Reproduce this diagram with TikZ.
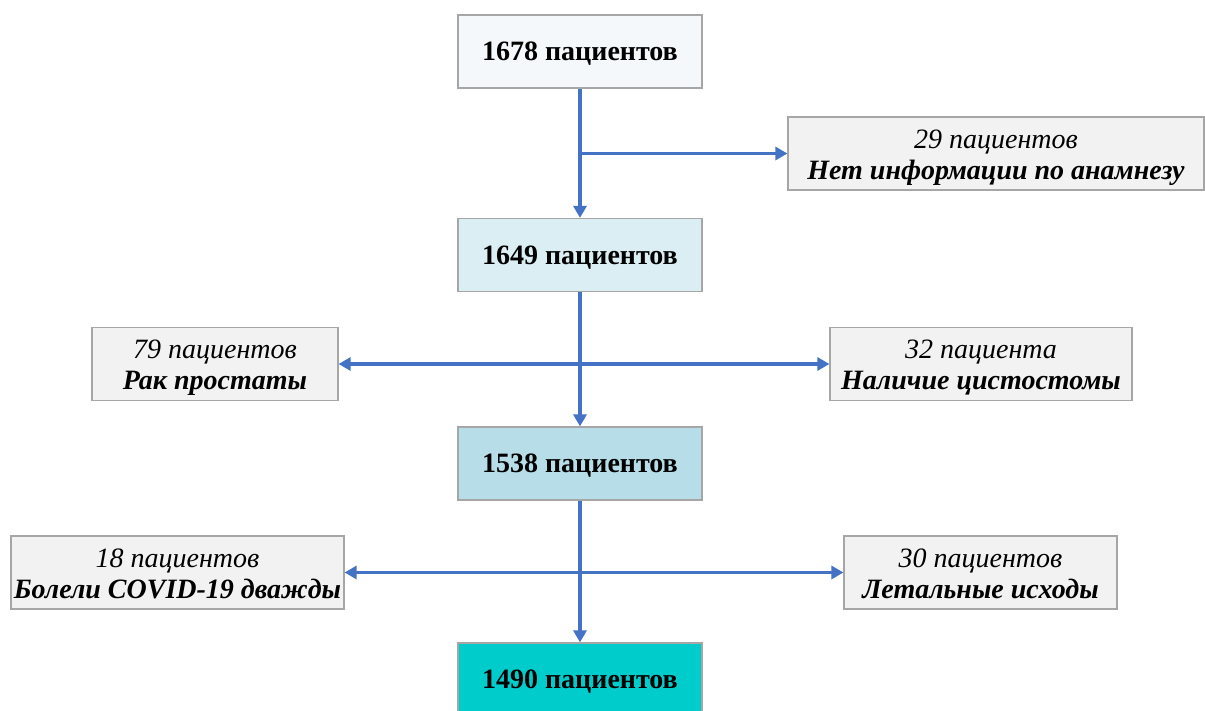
\documentclass[tikz,border=0pt]{standalone}
\usepackage{fontspec}
\setmainfont{Liberation Serif}
\usetikzlibrary{arrows.meta}
\definecolor{lineblue}{HTML}{4472C4}
\definecolor{boxgray}{HTML}{A6A6A6}
\definecolor{fillA}{HTML}{F4F8FA}
\definecolor{fillB}{HTML}{DAEEF3}
\definecolor{fillC}{HTML}{B7DEE8}
\definecolor{fillD}{HTML}{00CCCC}
\definecolor{fillE}{HTML}{F2F2F2}
\newcommand\mytwoline[2]{\raisebox{-4pt}[\height][\depth]{\begin{tabular}{@{}c@{}}\itshape #1\\\bfseries\itshape #2\end{tabular}}}
\newcommand\myone[1]{\raisebox{-2.5pt}[\height][\depth]{#1}}
\tikzset{
  mainbox/.style={draw=boxgray, line width=1.2pt, minimum width=244pt, minimum height=73pt, inner sep=0pt, font=\fontsize{28}{31}\selectfont\bfseries},
  sidebox/.style={draw=boxgray, line width=1.2pt, fill=fillE, minimum height=73pt, inner sep=0pt, font=\fontsize{28}{31}\selectfont},
  flow/.style={draw=lineblue, line width=3.2pt, -{Triangle[length=12pt,width=13pt]}},
}
\begin{document}
\begin{tikzpicture}[x=1pt,y=-1pt]
\useasboundingbox (0,0) rectangle (1205,711);
\clip (0,0) rectangle (1205,711);
\node[mainbox, fill=fillA] (b1) at (580,51.5) {\myone{1678 пациентов}};
\node[sidebox, minimum width=416pt] (s1) at (996,153.5) {\mytwoline{29 пациентов}{Нет информации по анамнезу}};
\node[mainbox, fill=fillB] (b2) at (580,255) {\myone{1649 пациентов}};
\node[sidebox, minimum width=246pt] (s2) at (215,364) {\mytwoline{79 пациентов}{Рак простаты}};
\node[sidebox, minimum width=302pt] (s3) at (981,364) {\mytwoline{32 пациента}{Наличие цистостомы}};
\node[mainbox, fill=fillC] (b3) at (580,463.5) {\myone{1538 пациентов}};
\node[sidebox, minimum width=333pt] (s4) at (177.5,572.5) {\mytwoline{18 пациентов}{Болели COVID-19 дважды}};
\node[sidebox, minimum width=273pt] (s5) at (980.5,572.5) {\mytwoline{30 пациентов}{Летальные исходы}};
\node[mainbox, fill=fillD] (b4) at (580,679.5) {\myone{1490 пациентов}};
\coordinate (j1) at (580,153.5);
\coordinate (j2) at (580,364);
\coordinate (j3) at (580,572.5);
\draw[flow] (b1.south) -- (b2.north);
\draw[flow] (j1) -- (s1.west);
\draw[flow] (b2.south) -- (b3.north);
\draw[flow] (j2) -- (s2.east);
\draw[flow] (j2) -- (s3.west);
\draw[flow] (b3.south) -- (b4.north);
\draw[flow] (j3) -- (s4.east);
\draw[flow] (j3) -- (s5.west);
\end{tikzpicture}
\end{document}
